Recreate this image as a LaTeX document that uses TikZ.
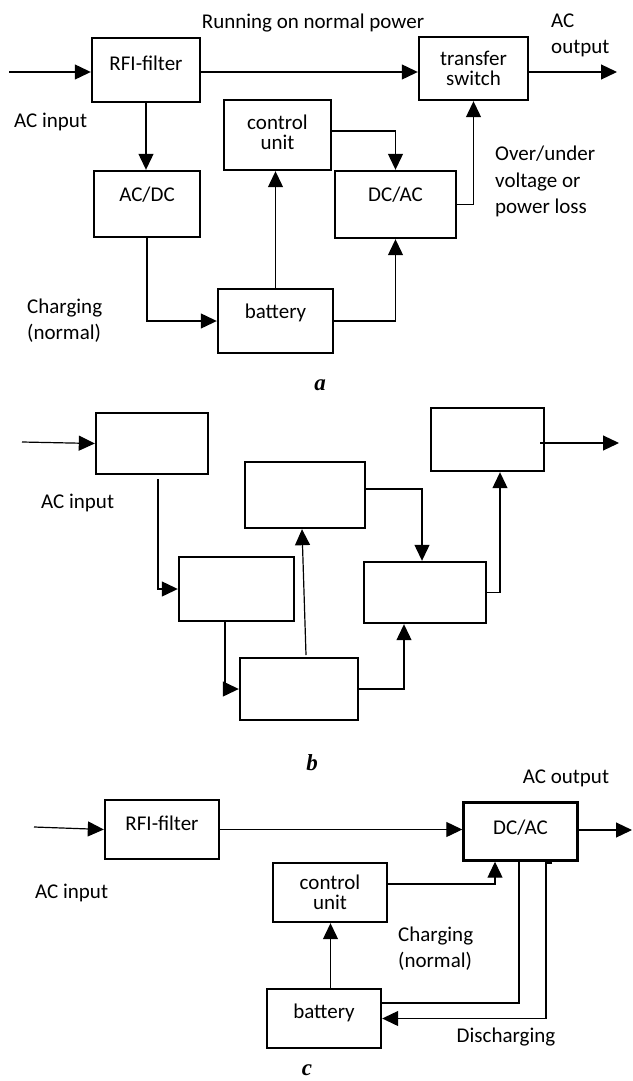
\documentclass[tikz,border=0pt]{standalone}
\usepackage{fontspec}
\setmainfont{Carlito}
\newfontfamily\labfont{Liberation Serif}
\usetikzlibrary{arrows.meta,calc}
\begin{document}
\begin{tikzpicture}[x=1pt,y=-1pt,
 box/.style={draw,line width=2.4pt,inner sep=0pt},
 btxt/.style={align=center,inner sep=0pt,font=\fontsize{21}{20.5}\selectfont},
 conn/.style={line width=1.2pt},
 arr/.style={conn,-{Triangle[length=16pt,width=15pt]}},
 lbl/.style={align=left,inner sep=0pt,font=\fontsize{21}{26.5}\selectfont},
 sub/.style={inner sep=0pt,font=\fontsize{23}{23}\labfont\bfseries\itshape}]
\useasboundingbox (0,0) rectangle (632,1081);

% ---------- part a ----------
\node[box,minimum width=108pt,minimum height=64pt,label={[btxt,yshift=7pt]center:RFI-filter}] (rfiA) at (146,70) {};
\node[box,minimum width=109pt,minimum height=63pt,label={[btxt]center:transfer\\switch}] (tsA) at (473.5,68.5) {};
\node[box,minimum width=106pt,minimum height=66pt,label={[btxt,yshift=9pt]center:AC/DC}] (acdcA) at (147,204) {};
\node[box,minimum width=107pt,minimum height=70pt,label={[btxt,yshift=2.5pt]center:control\\unit}] (ctlA) at (277.5,135) {};
\node[box,minimum width=121pt,minimum height=67pt,label={[btxt,yshift=9.5pt]center:DC/AC}] (dcacA) at (395.5,204.5) {};
\node[box,minimum width=115pt,minimum height=64pt,label={[btxt,yshift=8pt]center:battery}] (batA) at (275.5,321) {};

\node[lbl,anchor=center] (runA) at (313,23) {Running on normal power};
\node[lbl,anchor=west] (outlA) at (551,35.5) {AC\\output};
\node[lbl,anchor=west] (inlA) at (14,122) {AC input};
\node[lbl,anchor=west] (ovA) at (495,181.5) {Over/under\\voltage or\\power loss};
\node[lbl,anchor=west] (chA) at (27,320.5) {Charging\\(normal)};
\node[sub] (labA) at (320,385) {a};

\coordinate (inA) at (9,72);
\coordinate (outA) at (617,72);
\draw[arr] (inA) -- (inA -| rfiA.west);
\draw[arr] ([yshift=-2pt]rfiA.east) -- ([yshift=-2pt]rfiA.east -| tsA.west);
\draw[arr] (tsA.east |- outA) -- (outA);
\draw[arr] (rfiA.south) -- (rfiA.south |- acdcA.north);
\draw[arr] ([yshift=4pt]ctlA.east) -| (dcacA.north);
\draw[arr] (dcacA.east) -| (tsA.south);
\draw[arr] (batA.north) -- (batA.north |- ctlA.south);
\draw[arr] (acdcA.south) |- (batA.west);
\draw[arr] (batA.east) -| (dcacA.south);

% ---------- part b ----------
\node[box,minimum width=112pt,minimum height=61pt] (b1) at (152,443.5) {};
\node[box,minimum width=115pt,minimum height=64pt] (b3) at (236.5,589) {};
\node[box,minimum width=120pt,minimum height=66pt] (bc) at (305,495) {};
\node[box,minimum width=122pt,minimum height=61pt] (bd) at (425,592.5) {};
\node[box,minimum width=113pt,minimum height=63pt] (bt) at (487.5,439.5) {};
\node[box,minimum width=118pt,minimum height=62pt] (bb) at (299,689) {};

\node[lbl,anchor=west] (inlB) at (41,503) {AC input};
\node[sub] (labB) at (312,763) {b};

\coordinate (inB) at (22,442);
\coordinate (b1s) at (158,479);
\coordinate (outBs) at (540,443);
\coordinate (outB) at (619,443);
\coordinate (bbs) at (306,655);
\draw[arr] (inB) -- (b1.west);
\draw[arr] (b1s) |- (b3.west);
\draw[arr] ([yshift=6pt]bc.east) -| ([xshift=-3pt]bd.north);
\draw[arr] (bd.east) -| ([xshift=12.5pt]bt.south);
\draw[arr] (outBs) -- (outB);
\draw[arr] (bbs) -- ([xshift=-3pt]bc.south);
\draw[arr] ([xshift=-11.5pt]b3.south) |- (bb.west);
\draw[arr] (bb.east) -| ([xshift=-21pt]bd.south);

% ---------- part c ----------
\node[box,minimum width=114pt,minimum height=59pt,label={[btxt,yshift=6.5pt]center:RFI-filter}] (rfiC) at (162,829.5) {};
\node[box,minimum width=114pt,minimum height=58pt,label={[btxt,yshift=4pt]center:DC/AC}] (dcacC) at (520.5,831.5) {};
\node[box,minimum width=114pt,minimum height=59pt,label={[btxt]center:control\\unit}] (ctlC) at (330,892.5) {};
\node[box,minimum width=114pt,minimum height=59pt,label={[btxt,yshift=5.5pt]center:battery}] (batC) at (324,1018.5) {};

\node[lbl,anchor=center] (outlC) at (566,778) {AC output};
\node[lbl,anchor=west] (inlC) at (35,893) {AC input};
\node[lbl,anchor=west] (chC) at (398,948.5) {Charging\\(normal)};
\node[lbl,anchor=center] (disC) at (506,1037) {Discharging};
\node[sub] (labC) at (307,1070) {c};

\coordinate (inC) at (34,827);
\coordinate (outC) at (632,830);
\coordinate (hk) at (552,863);
\coordinate (hk2) at (546,863);
\draw[arr] (inC) -- (rfiC.west);
\draw[arr] (rfiC.east) -- (rfiC.east -| dcacC.west);
\draw[arr] (dcacC.east |- outC) -- (outC);
\draw[arr] ([yshift=8.5pt]ctlC.east) -| ([xshift=-25.5pt]dcacC.south);
\draw[conn] ([xshift=-1.5pt]dcacC.south) |- ([yshift=15.5pt]batC.east);
\draw[arr] (hk) -- (hk2) |- (batC.east);
\draw[arr] ([xshift=6.5pt]batC.north) -- ([xshift=6.5pt]batC.north |- ctlC.south);
\end{tikzpicture}
\end{document}
